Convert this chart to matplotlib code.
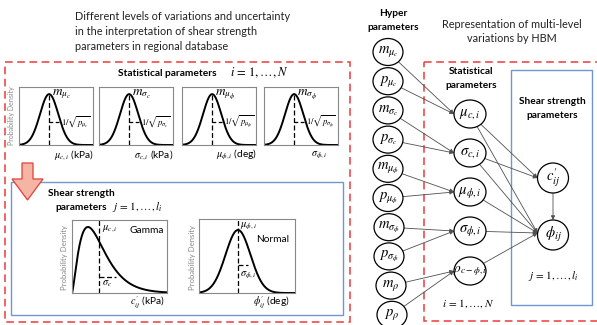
import numpy as np
import matplotlib
matplotlib.use('Agg')
import matplotlib.pyplot as plt
from matplotlib.patches import Ellipse, Rectangle, FancyArrowPatch, Polygon

W, H = 597, 325
plt.rcParams['font.family'] = ['Lato', 'DejaVu Sans']
plt.rcParams['mathtext.fontset'] = 'stix'

# ---------------- data ----------------
left_title = ["Different levels of variations and uncertainty",
              "in the interpretation of shear strength",
              "parameters in regional database"]
right_title = ["Representation of multi-level", "variations by HBM"]

stat_peak_labels = [r'$m_{\mu_c}$', r'$m_{\sigma_c}$', r'$m_{\mu_\phi}$', r'$m_{\sigma_\phi}$']
stat_prec_labels = [r'$1/\sqrt{p_{\mu_c}}$', r'$1/\sqrt{p_{\sigma_c}}$',
                    r'$1/\sqrt{p_{\mu_\phi}}$', r'$1/\sqrt{p_{\sigma_\phi}}$']
stat_xlabels = [r'$\mu_{c,i}$ (kPa)', r'$\sigma_{c,i}$ (kPa)', r'$\mu_{\phi,i}$ (deg)', r'$\sigma_{\phi,i}$']

gamma_shape = 2.45          # shape of c' distribution (illustrative)
shear_xlabels = [r"$c_{ij}^{\prime}$ (kPa)", r"$\phi_{ij}^{\prime}$ (deg)"]
shear_dist_names = ["Gamma", "Normal"]
shear_mean_labels = [r'$\mu_{c,i}$', r'$\mu_{\phi,i}$']
shear_sd_labels = [r'$\sigma_c$', r'$\sigma_{\phi,i}$']

hyper_nodes = ['m_mc', 'p_mc', 'm_sc', 'p_sc', 'm_mf', 'p_mf', 'm_sf', 'p_sf', 'm_r', 'p_r']
hyper_labels = [r'$m_{\mu_c}$', r'$p_{\mu_c}$', r'$m_{\sigma_c}$', r'$p_{\sigma_c}$',
                r'$m_{\mu_\phi}$', r'$p_{\mu_\phi}$', r'$m_{\sigma_\phi}$', r'$p_{\sigma_\phi}$',
                r'$m_\rho$', r'$p_\rho$']
stat_nodes = ['mu_c', 'sig_c', 'mu_f', 'sig_f', 'rho']
stat_labels = [r'$\mu_{c,i}$', r'$\sigma_{c,i}$', r'$\mu_{\phi,i}$', r'$\sigma_{\phi,i}$', r'$\rho_{c-\phi,i}$']
shear_nodes = ['c', 'phi']
shear_labels = [r"$c_{ij}^{\prime}$", r'$\phi_{ij}$']
edges = [('m_mc', 'mu_c'), ('p_mc', 'mu_c'), ('m_sc', 'sig_c'), ('p_sc', 'sig_c'),
         ('m_mf', 'mu_f'), ('p_mf', 'mu_f'), ('m_sf', 'sig_f'), ('p_sf', 'sig_f'),
         ('m_r', 'rho'), ('p_r', 'rho'),
         ('mu_c', 'c'), ('sig_c', 'c'), ('mu_c', 'phi'), ('sig_c', 'phi'),
         ('mu_f', 'phi'), ('sig_f', 'phi'), ('rho', 'phi'), ('c', 'phi')]

# ---------------- figure ----------------
fig = plt.figure(figsize=(W / 100, H / 100), dpi=100)
ax = fig.add_axes([0, 0, 1, 1])
ax.set_xlim(0, W)
ax.set_ylim(H, 0)
ax.axis('off')

RED = '#ee3b3b'
BLUE = '#7096d4'
GRAY = '#888888'
LINE = '#505050'


def px_axes(x0, y0, x1, y1):
    a = fig.add_axes([x0 / W, 1 - y1 / H, (x1 - x0) / W, (y1 - y0) / H])
    a.set_xticks([])
    a.set_yticks([])
    a.patch.set_alpha(0)
    for s in a.spines.values():
        s.set_color(GRAY)
        s.set_linewidth(0.8)
    return a


# titles
for k, line in enumerate(left_title):
    ax.text(75, 16 + 15.5 * k, line, fontsize=7.8, ha='left', va='center', color='#222222')
for k, line in enumerate(right_title):
    ax.text(512, 24 + 14 * k, line, fontsize=7.8, ha='center', va='center', color='#222222')

# boxes
ax.add_patch(Rectangle((5, 62), 345, 260, fill=False, ec=RED, lw=1.1, ls=(0, (5, 3))))
ax.add_patch(Rectangle((11, 182), 332, 133, fill=False, ec=BLUE, lw=1.0))
ax.add_patch(Rectangle((424, 62), 180, 259, fill=False, ec=RED, lw=1.1, ls=(0, (5, 3))))
ax.add_patch(Rectangle((511, 70), 81, 235, fill=False, ec=BLUE, lw=1.0))

# red down arrow
ax.add_patch(Polygon([(22, 163), (33, 163), (33, 179), (43, 179), (27.5, 200), (12, 179), (22, 179)],
                     closed=True, fc='#f6b4a4', ec='#e04038', lw=0.9))

# left header texts
ax.text(167, 73, 'Statistical parameters', fontsize=7.3, fontweight='bold', ha='center', va='center')
ax.text(230, 73, r'$i\,=\,1,\ldots,N$', fontsize=9, ha='left', va='center')
ax.text(48, 193, 'Shear strength', fontsize=7.3, fontweight='bold', ha='left', va='center')
ax.text(55, 207, 'parameters', fontsize=7.3, fontweight='bold', ha='left', va='center')
ax.text(112, 207, r'$j\,=\,1,\ldots,l_i$', fontsize=8, ha='left', va='center')

ax.text(12, 116, 'Probability Density', fontsize=5, rotation=90, ha='center', va='center', color=GRAY)
ax.text(65, 257, 'Probability Density', fontsize=5.6, rotation=90, ha='center', va='center', color=GRAY)
ax.text(192, 257, 'Probability Density', fontsize=5.6, rotation=90, ha='center', va='center', color=GRAY)

# top row of statistical-parameter densities
top_x0 = [19, 99, 182, 264]
z = np.linspace(-3.3, 4.8, 300)
for k in range(4):
    a = px_axes(top_x0[k], 87, top_x0[k] + 74, 145)
    a.plot(z, np.exp(-0.5 * z ** 2), color='k', lw=1.4)
    a.plot([0, 0], [0, 1], color='k', lw=0.9, dashes=(4, 2))
    a.plot([0, 1.26], [0.45, 0.45], color='k', lw=0.9, dashes=(3, 2))
    a.set_xlim(-3.3, 4.8)
    a.set_ylim(0, 1.14)
    a.text(0.3, 1.0, stat_peak_labels[k], fontsize=9.5, ha='left', va='center')
    a.text(1.3, 0.45, stat_prec_labels[k], fontsize=6.3, ha='left', va='center')
    ax.text(top_x0[k] + 55, 155, stat_xlabels[k], fontsize=7.3, ha='center', va='center')

# gamma density for c'
a = px_axes(72, 220, 167, 293)
theta = 1.0
xg = np.linspace(0, 95 / 11.0, 400)
pg = xg ** (gamma_shape - 1) * np.exp(-xg / theta)
mode = (gamma_shape - 1) * theta
pg = pg / (mode ** (gamma_shape - 1) * np.exp(-mode / theta))
a.plot(xg, pg, color='k', lw=1.4)
mean = gamma_shape * theta
sd = np.sqrt(gamma_shape) * theta
a.plot([mean, mean], [0, 1.2], color='k', lw=0.9, dashes=(4, 2))
a.plot([mean, mean + sd], [0.24, 0.24], color='k', lw=0.9, dashes=(4, 2))
a.set_xlim(0, 95 / 11.0)
a.set_ylim(0, 1.106)
a.text(mean + 0.25, 0.97, shear_mean_labels[0], fontsize=7.5, ha='left', va='center')
a.text(mean + 0.25, 0.14, shear_sd_labels[0], fontsize=7.5, ha='left', va='center')
a.text(0.6, 0.85, shear_dist_names[0], fontsize=7.3, ha='left', va='center', transform=a.transAxes)
ax.text(147, 303, shear_xlabels[0], fontsize=7.3, ha='center', va='center')

# normal density for phi'
a = px_axes(199, 219, 295, 293)
zn = np.linspace(-39 / 12.5, 57 / 12.5, 300)
a.plot(zn, np.exp(-0.5 * zn ** 2), color='k', lw=1.4)
a.plot([0, 0], [0, 1.2], color='k', lw=0.9, dashes=(4, 2))
a.plot([0, 0.8], [0.44, 0.44], color='k', lw=0.9, dashes=(4, 2))
a.set_xlim(-39 / 12.5, 57 / 12.5)
a.set_ylim(0, 74 / 63)
a.text(0.15, 1.06, shear_mean_labels[1], fontsize=7.5, ha='left', va='center')
a.text(0.15, 0.28, shear_sd_labels[1], fontsize=7.5, ha='left', va='center')
a.text(0.6, 0.72, shear_dist_names[1], fontsize=7.3, ha='left', va='center', transform=a.transAxes)
ax.text(271, 303, shear_xlabels[1], fontsize=7.3, ha='center', va='center')

# ---------------- HBM graph ----------------
ax.text(393, 14, 'Hyper', fontsize=7.3, fontweight='bold', ha='center', va='center')
ax.text(393, 28, 'parameters', fontsize=7.3, fontweight='bold', ha='center', va='center')
ax.text(471, 72, 'Statistical', fontsize=7.3, fontweight='bold', ha='center', va='center')
ax.text(471, 86, 'parameters', fontsize=7.3, fontweight='bold', ha='center', va='center')
ax.text(552, 101, 'Shear strength', fontsize=7.3, fontweight='bold', ha='center', va='center')
ax.text(552, 116, 'parameters', fontsize=7.3, fontweight='bold', ha='center', va='center')
ax.text(468, 304, r'$i\,=\,1,\ldots,N$', fontsize=8, ha='center', va='center')
ax.text(553, 276, r'$j\,=\,1,\ldots,l_i$', fontsize=8, ha='center', va='center')

pos = {}
patches = {}
hyper_x = [388, 388, 388, 388, 388, 388, 389, 389, 391, 392]
for k, (n, lab) in enumerate(zip(hyper_nodes, hyper_labels)):
    pos[n] = (hyper_x[k], 52 + 29.2 * k)
    e = Ellipse(pos[n], 30, 27, fc='white', ec='k', lw=0.9, zorder=3)
    ax.add_patch(e)
    patches[n] = e
    ax.text(pos[n][0], pos[n][1], lab, fontsize=10.5, ha='center', va='center', zorder=4)

stat_y = [114, 153, 192, 231, 271]
for k, (n, lab) in enumerate(zip(stat_nodes, stat_labels)):
    pos[n] = (470, stat_y[k])
    e = Ellipse(pos[n], 32, 28, fc='white', ec='k', lw=0.9, zorder=3)
    ax.add_patch(e)
    patches[n] = e
    ax.text(pos[n][0], pos[n][1], lab, fontsize=10.5 if k < 4 else 9.5, ha='center', va='center', zorder=4)

shear_y = [178, 235]
for k, (n, lab) in enumerate(zip(shear_nodes, shear_labels)):
    pos[n] = (553, shear_y[k])
    e = Ellipse(pos[n], 31, 30, fc='white', ec='k', lw=0.9, zorder=3)
    ax.add_patch(e)
    patches[n] = e
    ax.text(pos[n][0], pos[n][1], lab, fontsize=10.5, ha='center', va='center', zorder=4)


def in_point(src, dst):
    if src == 'c' and dst == 'phi':
        return (pos[dst][0], pos[dst][1] - 15)
    if dst in stat_nodes:
        return (pos[dst][0] - 16, pos[dst][1])
    return (pos[dst][0] - 15.5, pos[dst][1] - 2 if dst == 'phi' else pos[dst][1])


for s, d in edges:
    arr = FancyArrowPatch(posA=pos[s], posB=in_point(s, d), patchA=patches[s],
                          arrowstyle='-|>', mutation_scale=6, lw=0.6, color=LINE,
                          shrinkA=0, shrinkB=0, zorder=2)
    ax.add_patch(arr)

fig.savefig('out.png', dpi=100)
